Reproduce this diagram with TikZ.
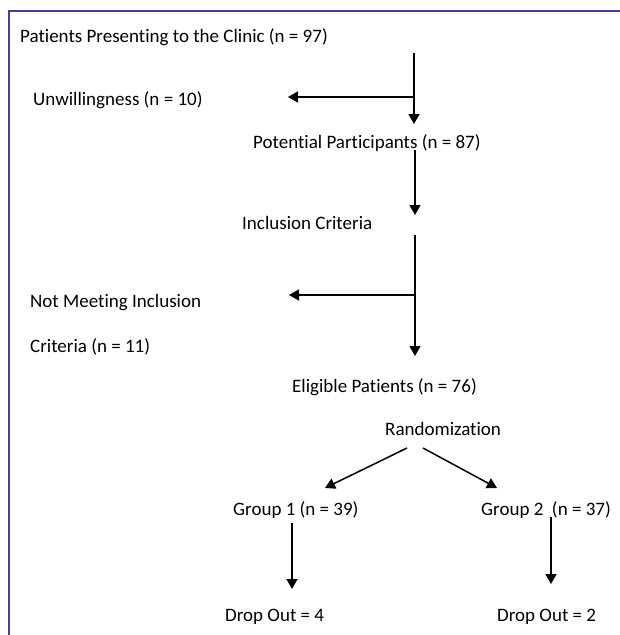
\documentclass[tikz,border=0pt]{standalone}
\usepackage{fontspec}
\setmainfont[Ligatures=NoCommon]{Carlito}
\usetikzlibrary{arrows.meta}
\definecolor{frame}{RGB}{74,60,150}
\tikzset{
  lbl/.style={anchor=west,inner sep=0pt,font=\fontsize{19pt}{23pt}\selectfont},
  conn/.style={line width=1.5pt,black},
  arr/.style={conn,-{Triangle[length=10pt,width=11pt]}},
}
\begin{document}
\begin{tikzpicture}[x=1pt,y=-1pt]
\useasboundingbox (0,0) rectangle (620,635);
\fill[white] (0,0) rectangle (620,635);
\draw[frame,line width=1.5pt] (620,11) -- (9,11) -- (9,635);

\node[lbl] (title) at (20,37) {Patients Presenting to the Clinic (n = 97)};
\node[lbl] (unw) at (33,100) {Unwillingness (n = 10)};
\node[lbl] (pot) at (253,143) {Potential Participants (n = 87)};
\node[lbl] (inc) at (242,223) {Inclusion Criteria};
\node[lbl] (notm) at (30,303) {Not Meeting Inclusion};
\node[lbl] (notm2) at (30,347) {Criteria (n = 11)};
\node[lbl] (elig) at (292,387) {Eligible Patients (n = 76)};
\node[lbl] (rand) at (385,429) {Randomization};
\node[lbl] (g1) at (233,510) {Group 1 (n = 39)};
\node[lbl] (g2) at (481,510) {Group 2\ \ (n = 37)};
\node[lbl] (d1) at (225,617) {Drop Out = 4};
\node[lbl] (d2) at (497,617) {Drop Out = 2};

\coordinate (a1s) at (414,53);
\coordinate (a1j) at (414,97);
\coordinate (a1e) at (414,124);
\coordinate (u1e) at (288,97);
\coordinate (a2s) at (415,150);
\coordinate (a2e) at (415,215);
\coordinate (a3s) at (415,235);
\coordinate (a3j) at (415,295);
\coordinate (a3e) at (415,356);
\coordinate (n1e) at (289,295);
\coordinate (rls) at (407,448);
\coordinate (rle) at (325,488);
\coordinate (rrs) at (423,448);
\coordinate (rre) at (497,488);
\coordinate (g1s) at (292,523);
\coordinate (g1e) at (292,589);
\coordinate (g2s) at (551,517);
\coordinate (g2e) at (551,584);

\draw[arr] (a1s) -- (a1e);
\draw[arr] (a1j) -- (u1e);
\draw[arr] (a2s) -- (a2e);
\draw[arr] (a3s) -- (a3e);
\draw[arr] (a3j) -- (n1e);
\draw[arr] (rls) -- (rle);
\draw[arr] (rrs) -- (rre);
\draw[arr] (g1s) -- (g1e);
\draw[arr] (g2s) -- (g2e);
\end{tikzpicture}
\end{document}
